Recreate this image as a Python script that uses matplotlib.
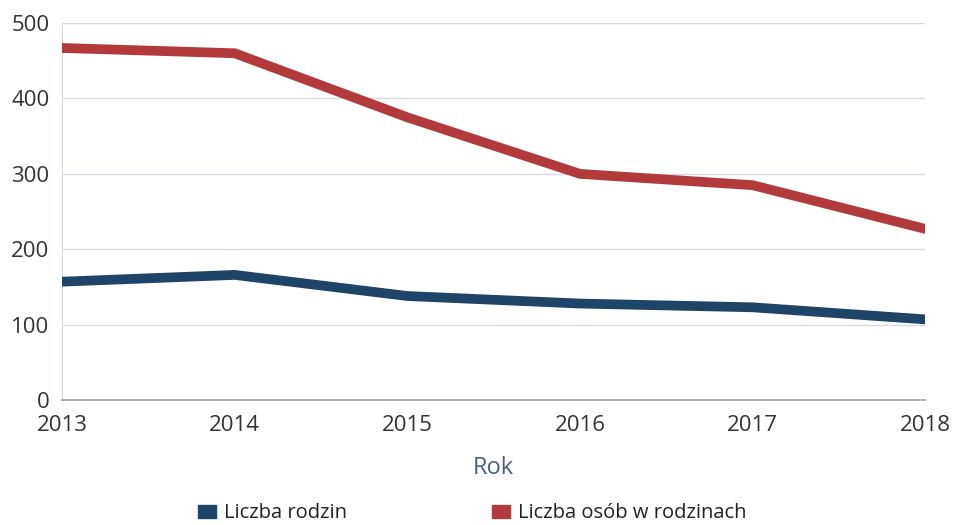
import matplotlib
matplotlib.use('Agg')
import matplotlib.pyplot as plt
import matplotlib.patches as patches

plt.rcParams['font.family'] = ['Open Sans', 'DejaVu Sans']

YEARS = [2013, 2014, 2015, 2016, 2017, 2018]
FAMILIES = [157, 166, 138, 128, 123, 107]
PERSONS = [467, 460, 375, 300, 285, 227]
Y_TICKS = [0, 100, 200, 300, 400, 500]

LABEL_FAMILIES = 'Liczba rodzin'
LABEL_PERSONS = 'Liczba osób w rodzinach'

BLUE = '#1e4467'
RED = '#b23a3b'

fig = plt.figure(figsize=(9.54, 5.25), dpi=100)
ax = fig.add_axes([0.065, 0.238, 0.905, 0.718])

ax.plot(YEARS, FAMILIES, color=BLUE, lw=7, solid_joinstyle='miter', zorder=3)
ax.plot(YEARS, PERSONS, color=RED, lw=7, solid_joinstyle='miter', zorder=3)

ax.set_xlim(YEARS[0], YEARS[-1])
ax.set_ylim(0, 500)
ax.set_xticks(YEARS)
ax.set_yticks(Y_TICKS)
ax.grid(True, axis='y', color='#d6dbe2', lw=1)
ax.set_axisbelow(True)
ax.tick_params(length=0, labelsize=16, colors='#333333')
ax.tick_params(axis='x', pad=11)
ax.tick_params(axis='y', pad=9)
for side in ['top', 'right']:
    ax.spines[side].set_visible(False)
ax.spines['left'].set_color('#d6dbe2')
ax.spines['bottom'].set_color('#9aa3ad')
ax.spines['bottom'].set_linewidth(1.2)

ax.set_xlabel('Rok', fontsize=17, color='#4a5f80', labelpad=14)

handles = [patches.Patch(color=BLUE, label=LABEL_FAMILIES),
           patches.Patch(color=RED, label=LABEL_PERSONS)]
fig.legend(handles=handles, loc='center', bbox_to_anchor=(0.495, 0.022), ncol=2,
           frameon=False, fontsize=14.5, handlelength=0.9, handleheight=0.6,
           handletextpad=0.4, columnspacing=7.2, labelcolor='#222222')

fig.savefig('out.png', dpi=100)
